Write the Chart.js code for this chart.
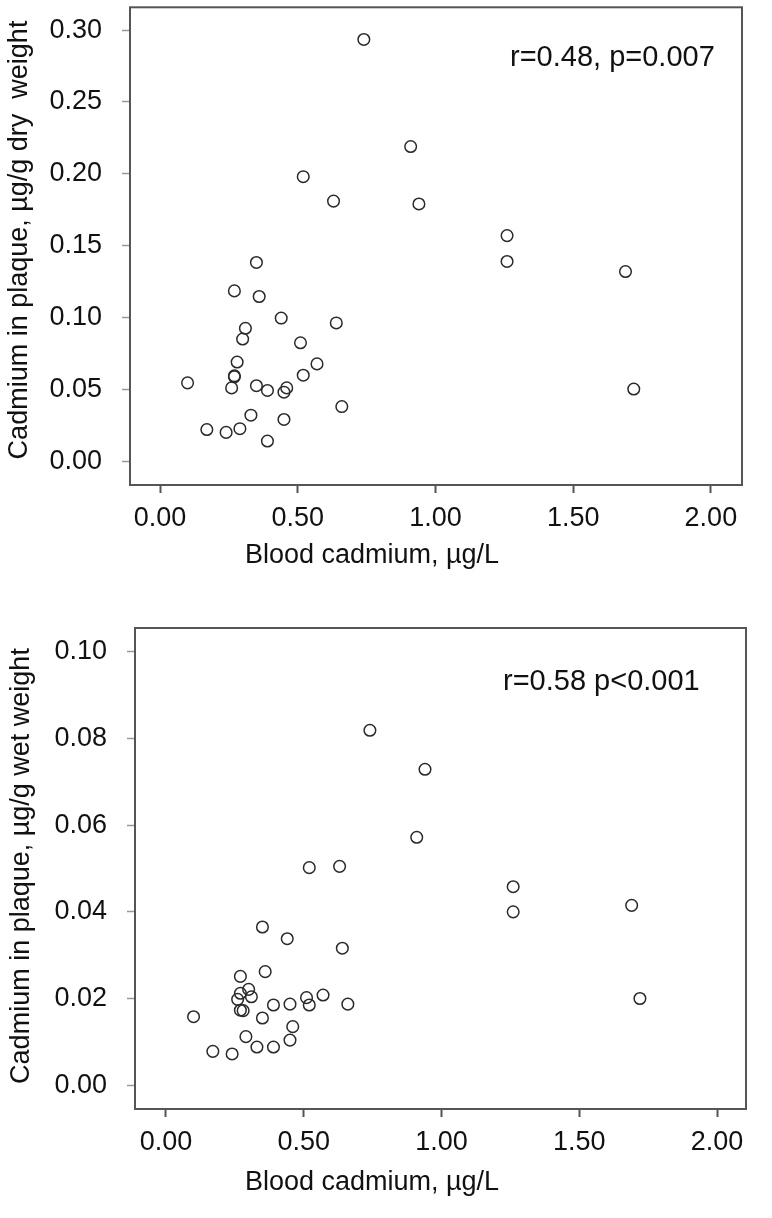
<!DOCTYPE html>
<html>
<head>
<meta charset="utf-8">
<script src="https://cdn.jsdelivr.net/npm/chart.js@4.4.1/dist/chart.umd.min.js"></script>
<style>
  body { margin: 0; background: #fff; }
  canvas { position: absolute; left: 0; }
</style>
</head>
<body>
<canvas id="dry" width="772" height="580" style="top:0"></canvas>
<canvas id="wet" width="772" height="618" style="top:600px"></canvas>
<script>
// blood cadmium (x) vs plaque cadmium (y)
const dryX = [0.10, 0.17, 0.24, 0.29, 0.33, 0.39, 0.45, 0.26, 0.27, 0.27, 0.28, 0.30, 0.31, 0.27, 0.36, 0.35, 0.44, 0.35,
              0.39, 0.45, 0.46, 0.51, 0.52, 0.57, 0.64, 0.66, 1.26, 1.26, 1.69, 1.72, 0.63, 0.94, 0.74, 0.91, 0.52];
const dryY = [0.0545, 0.022, 0.020, 0.0226, 0.032, 0.014, 0.029, 0.051, 0.0587, 0.0594, 0.069, 0.085, 0.0925, 0.1185,
              0.1146, 0.1383, 0.0996, 0.0525, 0.0492, 0.048, 0.051, 0.0824, 0.0598, 0.0677, 0.0962, 0.038, 0.157, 0.139,
              0.132, 0.0502, 0.181, 0.179, 0.2935, 0.219, 0.198];

const wetX = [1.26, 1.26, 1.69, 1.72, 0.35, 0.44, 0.64, 0.36, 0.27, 0.27, 0.30, 0.31, 0.26, 0.27, 0.28, 0.10, 0.39, 0.45,
              0.51, 0.52, 0.57, 0.66, 0.35, 0.46, 0.45, 0.29, 0.33, 0.39, 0.17, 0.24, 0.74, 0.94, 0.91, 0.52, 0.63];
const wetY = [0.0458, 0.040, 0.0415, 0.020, 0.0365, 0.0338, 0.0316, 0.0262, 0.0251, 0.0212, 0.0221, 0.0204, 0.0198,
              0.0173, 0.0172, 0.0158, 0.0185, 0.0187, 0.0202, 0.0185, 0.0208, 0.0187, 0.0155, 0.0135, 0.0104, 0.0112,
              0.0088, 0.0088, 0.0078, 0.0072, 0.0819, 0.0729, 0.0572, 0.0502, 0.0505];

const xTicks = [0, 0.5, 1, 1.5, 2];
const dryTicks = [0, 0.05, 0.10, 0.15, 0.20, 0.25, 0.30];
const wetTicks = [0, 0.02, 0.04, 0.06, 0.08, 0.10];

const FONT = '"Liberation Sans", Arial, sans-serif';

// box around the plot area, the r/p note and the axis titles
const frame = {
  id: 'frame',
  afterDraw(chart, args, o) {
    const { ctx, chartArea: a } = chart;
    ctx.save();
    ctx.strokeStyle = '#555';
    ctx.lineWidth = 2;
    ctx.strokeRect(a.left, a.top, a.right - a.left, a.bottom - a.top);
    ctx.fillStyle = '#111';
    ctx.font = '29px ' + FONT;
    ctx.textAlign = 'left';
    ctx.textBaseline = 'alphabetic';
    ctx.fillText(o.note, o.noteX, o.noteY);
    ctx.font = '27px ' + FONT;
    ctx.textAlign = 'center';
    ctx.textBaseline = 'middle';
    ctx.fillText(o.xTitle, o.xTitleX, o.xTitleY);
    ctx.translate(o.yTitleX, o.yTitleY);
    ctx.rotate(-Math.PI / 2);
    ctx.fillText(o.yTitle, 0, 0);
    ctx.restore();
  }
};

function scatter(id, xs, ys, yTicks, s) {
  const pts = xs.map((x, i) => ({ x: x, y: ys[i] }));
  return new Chart(document.getElementById(id), {
    type: 'scatter',
    data: {
      datasets: [{
        data: pts,
        pointRadius: 5.8,
        pointHoverRadius: 5.8,
        pointBorderWidth: 1.5,
        pointBorderColor: '#2a2a2a',
        pointBackgroundColor: 'rgba(0,0,0,0)'
      }]
    },
    options: {
      responsive: false,
      animation: false,
      layout: { padding: { left: 0, top: s.top, right: s.right, bottom: 0 } },
      plugins: {
        legend: { display: false },
        tooltip: { enabled: false },
        frame: s.text
      },
      scales: {
        x: {
          type: 'linear',
          min: s.xMin, max: s.xMax,
          afterBuildTicks: sc => { sc.ticks = xTicks.map(v => ({ value: v })); },
          afterFit: sc => { sc.height = s.xAxisH; sc.paddingLeft = 0; sc.paddingRight = 0; },
          grid: { drawOnChartArea: false, drawTicks: true, tickLength: 8, tickColor: '#555', tickWidth: 2 },
          border: { display: false },
          ticks: {
            padding: 9, color: '#111', maxRotation: 0, autoSkip: false,
            font: { family: FONT, size: 27 },
            callback: v => v.toFixed(2)
          }
        },
        y: {
          type: 'linear',
          min: s.yMin, max: s.yMax,
          afterBuildTicks: sc => { sc.ticks = yTicks.map(v => ({ value: v })); },
          afterFit: sc => { sc.width = s.yAxisW; sc.paddingTop = 0; sc.paddingBottom = 0; },
          grid: { drawOnChartArea: false, drawTicks: true, tickLength: 8, tickColor: '#999', tickWidth: 1.5 },
          border: { display: false },
          ticks: {
            padding: 20, color: '#111', autoSkip: false,
            font: { family: FONT, size: 27 },
            callback: v => v.toFixed(2)
          }
        }
      }
    },
    plugins: [frame]
  });
}

scatter('dry', dryX, dryY, dryTicks, {
  top: 4, right: 30, yAxisW: 130, xAxisH: 95,
  xMin: -0.109, xMax: 2.113, yMin: -0.0166, yMax: 0.3159,
  text: {
    note: 'r=0.48, p=0.007', noteX: 510, noteY: 66,
    xTitle: 'Blood cadmium, \u00b5g/L', xTitleX: 372, xTitleY: 556,
    yTitle: 'Cadmium in plaque, \u00b5g/g dry  weight', yTitleX: 20, yTitleY: 240
  }
});

scatter('wet', wetX, wetY, wetTicks, {
  top: 28, right: 26, yAxisW: 135, xAxisH: 109,
  xMin: -0.1125, xMax: 2.105, yMin: -0.0055, yMax: 0.1055,
  text: {
    note: 'r=0.58 p<0.001', noteX: 503, noteY: 90,
    xTitle: 'Blood cadmium, \u00b5g/L', xTitleX: 372, xTitleY: 583,
    yTitle: 'Cadmium in plaque, \u00b5g/g wet weight', yTitleX: 22, yTitleY: 266
  }
});
</script>
</body>
</html>
